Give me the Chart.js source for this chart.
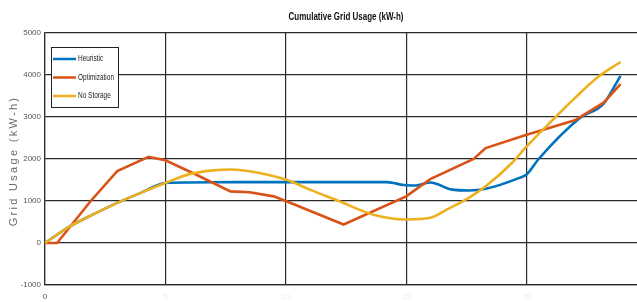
<!DOCTYPE html>
<html>
<head>
<meta charset="utf-8">
<script src="https://cdn.jsdelivr.net/npm/chart.js@4/dist/chart.umd.min.js"></script>
<style>
  html, body { margin: 0; padding: 0; background: #fff; overflow: hidden; }
  #wrap { position: relative; width: 660px; height: 302px; }
</style>
</head>
<body>
<div id="wrap"><canvas id="c" width="660" height="302"></canvas></div>
<script>
// ---- data (hours of day vs cumulative grid usage, kW-h) ----
const chartTitle = "Cumulative Grid Usage (kW-h)";
const yAxisTitle = "Grid Usage (kW-h)";
const seriesNames = ["Heuristic", "Optimization", "No Storage"];
const xTicks = [0, 5, 10, 15, 20, 25];
const yTicks = [-1000, 0, 1000, 2000, 3000, 4000, 5000];

const heuristicHours = [0, 1, 2, 3, 4, 5, 6, 8, 10, 12, 14.2, 14.9, 15.4, 16, 16.9, 17.6, 18.3, 19.7, 20, 20.5, 22.2, 23.2, 23.9];
const heuristicValues = [0, 385, 680, 955, 1200, 1430, 1440, 1450, 1450, 1450, 1450, 1380, 1370, 1440, 1270, 1250, 1290, 1550, 1630, 2000, 2970, 3320, 3980];

const optimizationHours = [0, 0.5, 1.9, 3, 4.3, 5, 6.2, 7.7, 8.5, 9.5, 10, 12.4, 15, 16, 17.8, 18.3, 20, 22, 23.2, 23.9];
const optimizationValues = [0, 0, 1000, 1710, 2050, 1970, 1650, 1230, 1210, 1110, 1000, 440, 1110, 1520, 2000, 2260, 2580, 2920, 3340, 3780];

const noStorageHours = [0, 1, 2, 3, 4, 5, 6, 7, 7.7, 8.5, 10, 11, 12.2, 13.6, 15, 16, 16.7, 17.6, 18.3, 19.4, 20, 21.1, 22, 23, 23.9];
const noStorageValues = [0, 385, 680, 955, 1200, 1430, 1640, 1730, 1750, 1710, 1510, 1270, 1000, 680, 560, 600, 800, 1075, 1350, 1910, 2300, 2940, 3450, 3970, 4310];

const colors = ["#0072BD", "#D95319", "#EDB120"];

function pts(xs, ys) { return xs.map((x, i) => ({ x: x, y: ys[i] })); }

const SANS = '"Liberation Sans", Arial, sans-serif';

function narrowText(ctx, text, x, y, sx) {
  ctx.save();
  ctx.translate(x, y);
  ctx.scale(sx, 1);
  ctx.fillText(text, 0, 0);
  ctx.restore();
}

const decorPlugin = {
  id: 'decor',
  afterDraw(chart) {
    const ctx = chart.ctx, a = chart.chartArea;
    ctx.save();
    // title
    ctx.fillStyle = '#111';
    ctx.font = 'bold 10px ' + SANS;
    ctx.textAlign = 'center';
    ctx.textBaseline = 'middle';
    narrowText(ctx, chartTitle, (a.left + a.right) / 2, 17, 0.8);
    // y-axis title
    ctx.save();
    ctx.translate(14, (a.top + a.bottom) / 2 + 2);
    ctx.rotate(-Math.PI / 2);
    ctx.fillStyle = '#6a6a6a';
    ctx.font = '11px ' + SANS;
    try { ctx.letterSpacing = '2.3px'; } catch (e) {}
    ctx.fillText(yAxisTitle, 0, 0);
    ctx.restore();
    // legend box
    const bx = 51, by = 47, bw = 67, bh = 60;
    ctx.fillStyle = '#fff';
    ctx.fillRect(bx, by, bw, bh);
    ctx.strokeStyle = '#222';
    ctx.lineWidth = 1;
    ctx.strokeRect(bx + 0.5, by + 0.5, bw, bh);
    const rows = [59, 77.5, 96];
    chart.data.datasets.forEach((ds, i) => {
      ctx.strokeStyle = ds.borderColor;
      ctx.lineWidth = 2.5;
      ctx.beginPath();
      ctx.moveTo(53, rows[i]);
      ctx.lineTo(76, rows[i]);
      ctx.stroke();
      ctx.fillStyle = '#222';
      ctx.font = '9px ' + SANS;
      ctx.textAlign = 'left';
      ctx.textBaseline = 'middle';
      narrowText(ctx, ds.label, 78, rows[i], 0.72);
    });
    ctx.restore();
  }
};

new Chart(document.getElementById('c'), {
  type: 'line',
  data: {
    datasets: [
      { label: seriesNames[0], data: pts(heuristicHours, heuristicValues), borderColor: colors[0], borderWidth: 2.6, pointRadius: 0, cubicInterpolationMode: 'monotone', fill: false, order: 2 },
      { label: seriesNames[1], data: pts(optimizationHours, optimizationValues), borderColor: colors[1], borderWidth: 2.6, pointRadius: 0, tension: 0, fill: false, order: 1 },
      { label: seriesNames[2], data: pts(noStorageHours, noStorageValues), borderColor: colors[2], borderWidth: 2.6, pointRadius: 0, cubicInterpolationMode: 'monotone', fill: false, order: 0 }
    ]
  },
  options: {
    responsive: false,
    animation: false,
    clip: false,
    layout: { padding: { top: 33, right: 13, left: 0, bottom: 0 } },
    plugins: { legend: { display: false }, title: { display: false }, tooltip: { enabled: false } },
    scales: {
      x: {
        type: 'linear',
        min: xTicks[0], max: xTicks[xTicks.length - 1],
        afterBuildTicks: (s) => { s.ticks = xTicks.map(v => ({ value: v })); },
        afterFit: (s) => { s.height = 17; },
        grid: { color: '#2b2b2b', lineWidth: 1.2, drawTicks: false },
        border: { color: '#2b2b2b', width: 1.2 },
        ticks: {
          padding: 7,
          font: { size: 8, family: SANS },
          color: (c) => c.tick && c.tick.value === 0 ? '#555' : '#ececec',
          callback: (v) => String(v),
          maxRotation: 0
        }
      },
      y: {
        min: yTicks[0], max: yTicks[yTicks.length - 1],
        afterBuildTicks: (s) => { s.ticks = yTicks.map(v => ({ value: v })); },
        afterFit: (s) => { s.width = 45; },
        grid: { color: '#2b2b2b', lineWidth: 1.2, drawTicks: false },
        border: { color: '#2b2b2b', width: 1.2 },
        ticks: { padding: 4, font: { size: 8, family: SANS }, color: '#555', callback: (v) => String(v) }
      }
    }
  },
  plugins: [decorPlugin]
});
</script>
</body>
</html>
